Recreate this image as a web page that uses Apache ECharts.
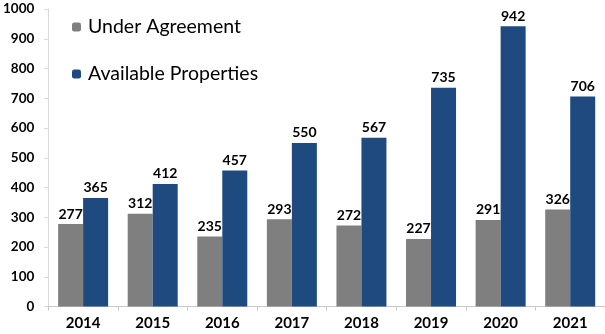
<!DOCTYPE html>
<html><head><meta charset="utf-8">
<script src="https://cdn.jsdelivr.net/npm/echarts@6/dist/echarts.min.js"></script>
<style>html,body{margin:0;padding:0;background:#fff}#c{width:605px;height:334px}</style>
</head><body><div id="c"></div>
<script>
const categories = ['2014','2015','2016','2017','2018','2019','2020','2021'];
const underAgreement = [277,312,235,293,272,227,291,326];
const availableProperties = [365,412,457,550,567,735,942,706];
const yTicks = {min:0, max:1000, interval:100};

const chart = echarts.init(document.getElementById('c'));
const font = 'Lato, "Open Sans", sans-serif';
const lbl = {show:true, position:'top', color:'#000', fontWeight:'bold', fontSize:14, fontFamily:font, distance:3};
const legText = {fontSize:19.5, fontFamily:font, color:'#000', padding:[0,0,0,2]};
chart.setOption({
  animation:false,
  grid:{left:48, right:0, top:9, bottom:27.5},
  legend:[
    {orient:'vertical', left:72, top:17, padding:0, itemWidth:9, itemHeight:9,
     data:['Under Agreement'], textStyle:legText},
    {orient:'vertical', left:72, top:64, padding:0, itemWidth:9, itemHeight:9,
     data:['Available Properties'], textStyle:legText}
  ],
  xAxis:{type:'category', data:categories,
    axisLine:{lineStyle:{color:'#c8c8c8'}},
    axisTick:{show:true, length:4, lineStyle:{color:'#c8c8c8'}},
    axisLabel:{color:'#000', fontWeight:'bold', fontSize:15, fontFamily:font, margin:9}},
  yAxis:{type:'value', min:yTicks.min, max:yTicks.max, interval:yTicks.interval,
    axisLine:{show:true, lineStyle:{color:'#d9d9d9'}},
    axisTick:{show:true, length:4, lineStyle:{color:'#d9d9d9'}},
    splitLine:{show:false},
    axisLabel:{color:'#000', fontWeight:'bold', fontSize:13.5, fontFamily:font, margin:14,
      formatter:function(v){return String(v);}}},
  series:[
    {name:'Under Agreement', type:'bar', data:underAgreement, barWidth:25, barGap:'0%',
     itemStyle:{color:'#7f7f7f'}, label:lbl},
    {name:'Available Properties', type:'bar', data:availableProperties, barWidth:25, barGap:'0%',
     itemStyle:{color:'#1f4a7f'}, label:lbl}
  ]
});
</script></body></html>
